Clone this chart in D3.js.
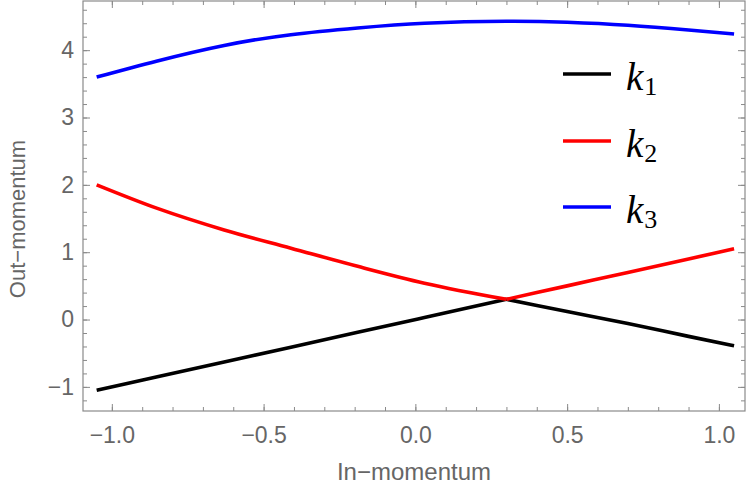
<!DOCTYPE html>
<html>
<head>
<meta charset="utf-8">
<script src="https://cdn.jsdelivr.net/npm/d3@7"></script>
<style>
  html, body { margin: 0; padding: 0; background: #fff; }
  svg { display: block; }
</style>
</head>
<body>
<svg id="chart" width="750" height="496"></svg>
<script>
// ---- data ----
const xs = [-1.05, -0.85, -0.63, -0.41, -0.19, 0.03, 0.30, 0.50, 0.70, 0.90, 1.05];
const k1 = [-1.05, -0.85, -0.63, -0.41, -0.19, 0.03, 0.30, 0.12, -0.06, -0.25, -0.39];
const k2 = [2.00, 1.65, 1.33, 1.06, 0.79, 0.54, 0.30, 0.50, 0.70, 0.90, 1.05];
const k3 = [3.60, 3.84, 4.07, 4.23, 4.33, 4.40, 4.43, 4.415, 4.37, 4.30, 4.24];
const kinkIndex = 6; // where k1 and k2 cross and change branch

const seriesNames = ["1", "2", "3"];
const seriesColors = ["#000000", "#ff0000", "#0000ff"];

const xMajorTicks = [-1.0, -0.5, 0.0, 0.5, 1.0];
const xMinorTicks = d3.range(-10, 11).map(i => i / 10);
const yMajorTicks = [-1, 0, 1, 2, 3, 4];
const yMinorTicks = d3.range(-6, 24).map(i => i / 5);

const xDomain = [-1.095, 1.086];
const yDomain = [-1.358, 4.73];

const xTitle = "In\u2212momentum";
const yTitle = "Out\u2212momentum";

// ---- layout ----
const svg = d3.select("#chart");
const L = 83, R = 745, T = 1, B = 411;
const x = d3.scaleLinear().domain(xDomain).range([L, R]);
const y = d3.scaleLinear().domain(yDomain).range([B, T]);

const frameColor = "#8a8a8a";
const labelColor = "#666666";
const sansFont = "'Liberation Sans', Arial, sans-serif";

svg.append("defs").append("clipPath").attr("id", "clip")
  .append("rect").attr("x", L).attr("y", T).attr("width", R - L).attr("height", B - T);

function styleAxis(g) {
  g.select(".domain").remove();
  g.selectAll(".tick line").attr("stroke", frameColor).attr("stroke-width", 1);
  g.selectAll(".tick text").attr("fill", labelColor)
    .attr("font-family", sansFont).attr("font-size", 23);
}

// bottom
svg.append("g").attr("transform", `translate(0,${B})`)
  .call(d3.axisBottom(x).tickValues(xMinorTicks).tickSize(-4).tickFormat(""))
  .call(styleAxis);
svg.append("g").attr("transform", `translate(0,${B})`)
  .call(d3.axisBottom(x).tickValues(xMajorTicks).tickSize(-7).tickPadding(16).tickFormat(d3.format(".1f")))
  .call(styleAxis);
// top
svg.append("g").attr("transform", `translate(0,${T})`)
  .call(d3.axisTop(x).tickValues(xMinorTicks).tickSize(-4).tickFormat(""))
  .call(styleAxis);
svg.append("g").attr("transform", `translate(0,${T})`)
  .call(d3.axisTop(x).tickValues(xMajorTicks).tickSize(-7).tickFormat(""))
  .call(styleAxis);
// left
svg.append("g").attr("transform", `translate(${L},0)`)
  .call(d3.axisLeft(y).tickValues(yMinorTicks).tickSize(-4).tickFormat(""))
  .call(styleAxis);
svg.append("g").attr("transform", `translate(${L},0)`)
  .call(d3.axisLeft(y).tickValues(yMajorTicks).tickSize(-7).tickPadding(9).tickFormat(d3.format("d")))
  .call(styleAxis);
// right
svg.append("g").attr("transform", `translate(${R},0)`)
  .call(d3.axisRight(y).tickValues(yMinorTicks).tickSize(-4).tickFormat(""))
  .call(styleAxis);
svg.append("g").attr("transform", `translate(${R},0)`)
  .call(d3.axisRight(y).tickValues(yMajorTicks).tickSize(-7).tickFormat(""))
  .call(styleAxis);

// frame
svg.append("rect").attr("x", L).attr("y", T).attr("width", R - L).attr("height", B - T)
  .attr("fill", "none").attr("stroke", frameColor).attr("stroke-width", 1.2);

// curves
const line = d3.line().x(d => x(d[0])).y(d => y(d[1])).curve(d3.curveMonotoneX);
const smooth = d3.line().x(d => x(d[0])).y(d => y(d[1])).curve(d3.curveNatural);
const plot = svg.append("g").attr("clip-path", "url(#clip)");
const allSeries = [k1, k2, k3];
allSeries.forEach((vals, i) => {
  const pts = xs.map((xv, j) => [xv, vals[j]]);
  const segments = i < 2 ? [pts.slice(0, kinkIndex + 1), pts.slice(kinkIndex)] : [pts];
  segments.forEach(seg => {
    plot.append("path").attr("d", (i < 2 ? line : smooth)(seg))
      .attr("fill", "none").attr("stroke", seriesColors[i])
      .attr("stroke-width", 3.6).attr("stroke-linejoin", "round").attr("stroke-linecap", "butt");
  });
});

// legend
const legendY = [74, 141, 207];
const legend = svg.append("g");
seriesNames.forEach((name, i) => {
  legend.append("line").attr("x1", 563).attr("x2", 611)
    .attr("y1", legendY[i]).attr("y2", legendY[i])
    .attr("stroke", seriesColors[i]).attr("stroke-width", 3.6);
  const t = legend.append("text").attr("x", 626).attr("y", legendY[i] + 16)
    .attr("font-family", "'Liberation Serif', 'Times New Roman', serif")
    .attr("font-size", 39).attr("fill", "#000");
  t.append("tspan").attr("font-style", "italic").text("k");
  t.append("tspan").attr("font-size", 26).attr("dx", 1).attr("dy", 5).text(name);
});

// axis titles
svg.append("text").attr("x", (L + R) / 2).attr("y", 480)
  .attr("text-anchor", "middle").attr("fill", labelColor)
  .attr("font-family", sansFont).attr("font-size", 24).text(xTitle);
svg.append("text")
  .attr("transform", `translate(25,219) rotate(-90)`)
  .attr("text-anchor", "middle").attr("fill", labelColor)
  .attr("font-family", sansFont).attr("font-size", 22).text(yTitle);
</script>
</body>
</html>
